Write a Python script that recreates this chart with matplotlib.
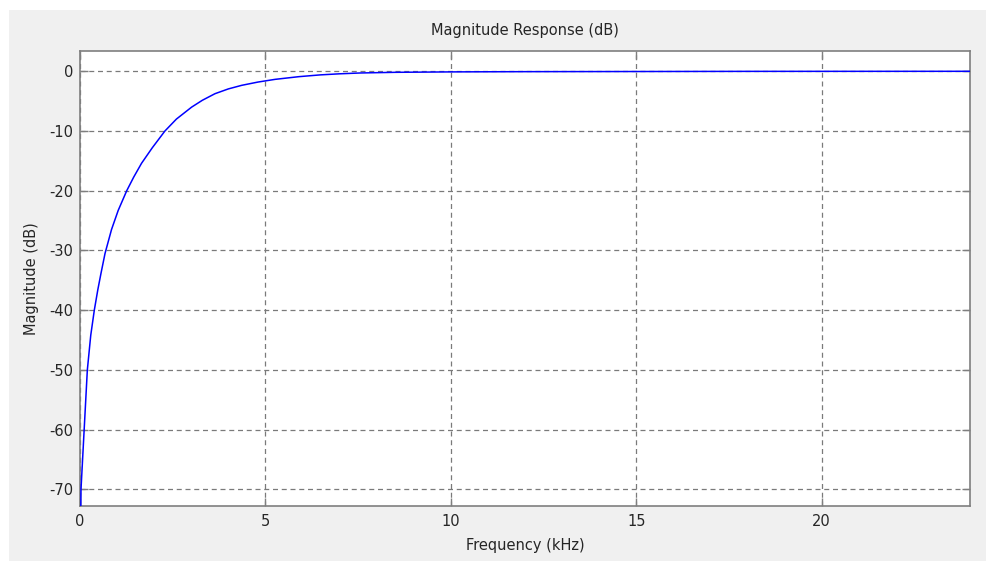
import matplotlib
matplotlib.use('Agg')
import matplotlib.pyplot as plt
from matplotlib.patches import Rectangle

plt.rcParams['font.family'] = ['DejaVu Sans']

# respuesta en magnitud del filtro pasa altos (kHz, dB)
freq_khz = [0.0, 0.01, 0.027, 0.108, 0.198, 0.29, 0.386, 0.48, 0.567, 0.675,
            0.85, 1.03, 1.26, 1.45, 1.66, 1.95, 2.29, 2.6, 3.01, 3.3,
            3.64, 4.0, 4.36, 4.8, 5.26, 5.9, 6.48, 7.0, 7.56, 8.5,
            10.0, 12.0, 14.6, 18.0, 24.0]
mag_db = [-120.0, -80.0, -70.0, -60.5, -50.0, -44.2, -40.0, -36.6, -33.8, -30.5,
          -26.5, -23.3, -20.0, -17.7, -15.4, -12.8, -10.0, -8.0, -6.0, -4.85,
          -3.75, -2.95, -2.35, -1.8, -1.35, -0.9, -0.6, -0.42, -0.28, -0.17,
          -0.1, -0.06, -0.04, -0.01, 0.0]

xticks = [0, 5, 10, 15, 20]
yticks = [0, -10, -20, -30, -40, -50, -60, -70]

gris = '#f0f0f0'
borde = '#7f7f7f'
texto = '#262626'

fig = plt.figure(figsize=(9.87, 5.61), dpi=100, facecolor='white')
# panel gris de fondo (detras de los ejes)
fig.patches.append(Rectangle((9 / 987, 0), 1 - 9 / 987, 1 - 10 / 561,
                             transform=fig.transFigure, facecolor=gris,
                             edgecolor='none', zorder=-10))

ax = fig.add_axes([80 / 987, 1 - 506 / 561, 890 / 987, 455.3 / 561])
ax.set_zorder(1)
ax.set_facecolor('white')
ax.plot(freq_khz, mag_db, color='#0000ff', linewidth=1.1, zorder=3)

ax.set_xlim(0, 24)
ax.set_ylim(-72.8, 3.45)
ax.set_xticks(xticks)
ax.set_yticks(yticks)
ax.set_xticklabels([str(t) for t in xticks])
ax.set_yticklabels([str(t) for t in yticks])

ax.grid(True, color='#7a7a7a', linestyle=(0, (4, 3)), linewidth=0.9)
ax.tick_params(direction='in', length=6, width=1, color=borde,
               labelcolor=texto, labelsize=10.5,
               top=True, right=True)
ax.tick_params(axis='x', pad=6)
ax.tick_params(axis='y', pad=5)
for s in ax.spines.values():
    s.set_color(borde)
    s.set_linewidth(1.2)

ax.set_title('Magnitude Response (dB)', fontsize=10.5, color=texto, pad=11)
ax.set_xlabel('Frequency (kHz)', fontsize=10.5, color=texto, labelpad=6.5)
ax.set_ylabel('Magnitude (dB)', fontsize=10.5, color=texto, labelpad=7)

fig.savefig('out.png', dpi=100, facecolor=fig.get_facecolor())
